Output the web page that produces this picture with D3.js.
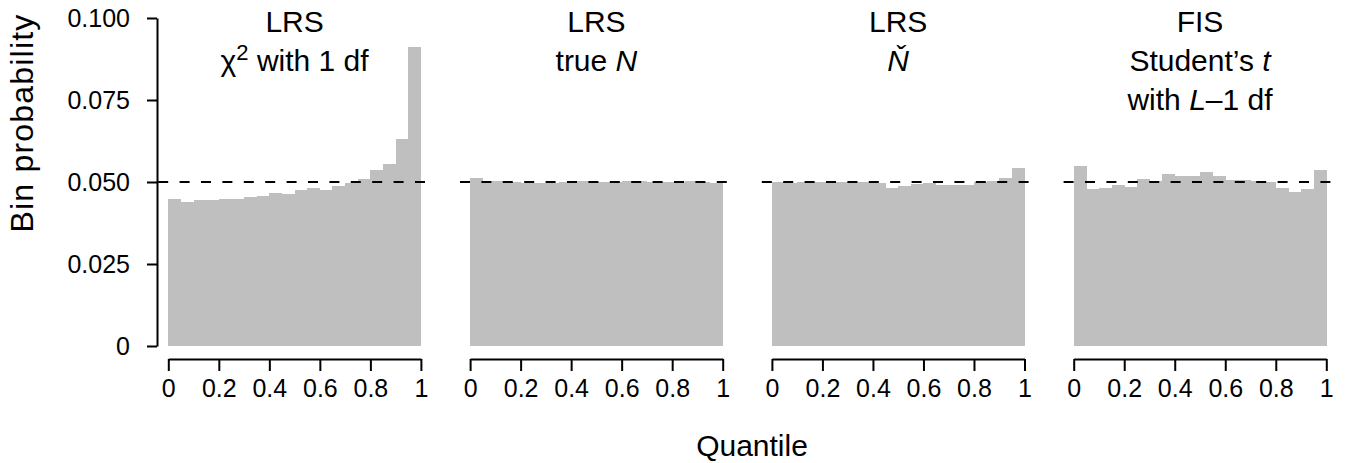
<!DOCTYPE html>
<html>
<head>
<meta charset="utf-8">
<script src="https://cdn.jsdelivr.net/npm/d3@7"></script>
<style>
  html, body { margin: 0; padding: 0; background: #fff; }
  svg text { font-family: "Liberation Sans", Arial, Helvetica, sans-serif; fill: #000; }
</style>
</head>
<body>
<svg id="chart" width="1350" height="463"></svg>
<script>
// Bin probabilities for 20 equal-width quantile bins, one array per panel
const lrsChisq = [0.0447, 0.0439, 0.0445, 0.0445, 0.0447, 0.0449, 0.0453, 0.0458, 0.0465, 0.0463,
                  0.0476, 0.0483, 0.0476, 0.0488, 0.0498, 0.0508, 0.0538, 0.0556, 0.0631, 0.0911];
const lrsTrueN = [0.0511, 0.0503, 0.0502, 0.0500, 0.0498, 0.0496, 0.0498, 0.0500, 0.0503, 0.0502,
                  0.0500, 0.0499, 0.0503, 0.0504, 0.0500, 0.0499, 0.0500, 0.0502, 0.0501, 0.0498];
const lrsNcheck = [0.0500, 0.0496, 0.0499, 0.0501, 0.0499, 0.0499, 0.0500, 0.0501, 0.0496, 0.0481,
                   0.0488, 0.0494, 0.0496, 0.0491, 0.0490, 0.0490, 0.0501, 0.0502, 0.0513, 0.0542];
const fisT = [0.0549, 0.0478, 0.0481, 0.0491, 0.0485, 0.0509, 0.0504, 0.0524, 0.0518, 0.0518,
              0.0530, 0.0518, 0.0506, 0.0506, 0.0503, 0.0500, 0.0481, 0.0471, 0.0478, 0.0537];

const seriesList = [lrsChisq, lrsTrueN, lrsNcheck, fisT];

// Panel titles: each line is a list of [text, style] segments
const panelTitles = [
  [[["LRS", ""]], [["χ", ""], ["2", "sup"], [" with 1 df", "after-sup"]]],
  [[["LRS", ""]], [["true ", ""], ["N", "it"]]],
  [[["LRS", ""]], [["Ň", "it"]]],
  [[["FIS", ""]], [["Student’s ", ""], ["t", "it"]], [["with ", ""], ["L", "it"], ["–1 df", ""]]]
];

const yTicks = [0, 0.025, 0.05, 0.075, 0.1];
const yTickLabels = ["0", "0.025", "0.050", "0.075", "0.100"];
const xTicks = [0, 0.2, 0.4, 0.6, 0.8, 1];
const xTickLabels = ["0", "0.2", "0.4", "0.6", "0.8", "1"];
const referenceLevel = 0.05;
const yLabel = "Bin probability";
const xLabel = "Quantile";

const svg = d3.select("#chart");
const barColor = "#bfbfbf";

const y = d3.scaleLinear().domain([0, 0.1]).range([346, 18]);

const panelLeft0 = 168.3, panelStep = 301.8, panelWidth = 252.6;
const xAxisY = 359;

seriesList.forEach((vals, i) => {
  const left = panelLeft0 + i * panelStep;
  const x = d3.scaleLinear().domain([0, 1]).range([left, left + panelWidth]);
  const n = vals.length;
  const g = svg.append("g");

  // histogram bars
  g.selectAll("rect").data(vals).join("rect")
    .attr("x", (d, k) => x(k / n))
    .attr("width", (d, k) => x((k + 1) / n) - x(k / n) + 0.4)
    .attr("y", d => y(d))
    .attr("height", d => y(0) - y(d))
    .attr("fill", barColor)
    .attr("shape-rendering", "crispEdges");

  // uniform reference level
  g.append("line")
    .attr("x1", x(-0.04)).attr("x2", x(1.04))
    .attr("y1", y(referenceLevel)).attr("y2", y(referenceLevel))
    .attr("stroke", "#000").attr("stroke-width", 2)
    .attr("stroke-dasharray", "10,11.4");

  // x axis
  const ax = d3.axisBottom(x).tickValues(xTicks)
    .tickFormat((d, k) => xTickLabels[k]).tickSize(12).tickPadding(8).tickSizeOuter(0);
  const axG = g.append("g").attr("transform", `translate(0,${xAxisY})`).call(ax);
  axG.select(".domain").attr("stroke", "#000").attr("stroke-width", 2);
  axG.selectAll(".tick line").attr("stroke", "#000").attr("stroke-width", 2);
  axG.selectAll(".tick text").style("font-size", "25px")
    .style("font-family", "'Liberation Sans', Arial, sans-serif");

  // title lines
  const cx = (x(0) + x(1)) / 2;
  const baselines = [32, 71, 110];
  panelTitles[i].forEach((line, li) => {
    const t = g.append("text")
      .attr("x", cx).attr("y", baselines[li])
      .attr("text-anchor", "middle")
      .style("font-size", "30px");
    line.forEach(([txt, st]) => {
      const ts = t.append("tspan").text(txt);
      if (st === "it") ts.style("font-style", "italic");
      if (st === "sup") ts.style("font-size", "22px").attr("dy", -11);
      if (st === "after-sup") ts.attr("dy", 11);
    });
  });
});

// y axis on the first panel
const yAx = d3.axisLeft(y).tickValues(yTicks)
  .tickFormat((d, k) => yTickLabels[k]).tickSize(10).tickPadding(17).tickSizeOuter(0);
const yG = svg.append("g").attr("transform", "translate(157,0)").call(yAx);
yG.select(".domain").attr("stroke", "#000").attr("stroke-width", 2);
yG.selectAll(".tick line").attr("stroke", "#000").attr("stroke-width", 2);
yG.selectAll(".tick text").style("font-size", "25px")
  .style("font-family", "'Liberation Sans', Arial, sans-serif");

// axis titles
svg.append("text")
  .attr("transform", "translate(33,123) rotate(-90)")
  .attr("text-anchor", "middle")
  .style("font-size", "32px")
  .style("letter-spacing", "1.2px")
  .text(yLabel);

svg.append("text")
  .attr("x", 752).attr("y", 456)
  .attr("text-anchor", "middle")
  .style("font-size", "30px")
  .text(xLabel);
</script>
</body>
</html>
